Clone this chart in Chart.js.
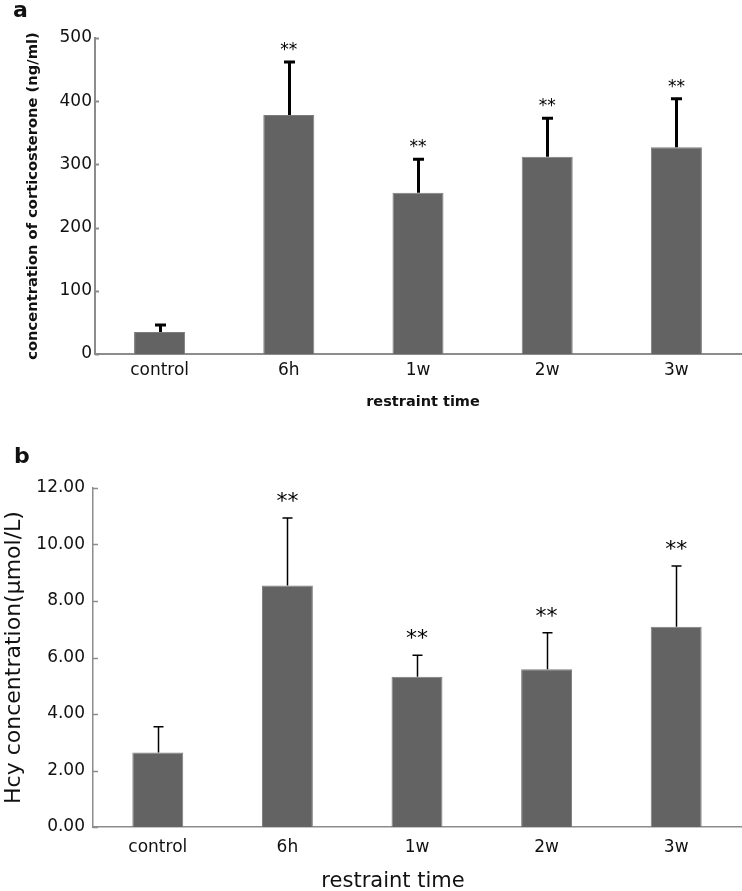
<!DOCTYPE html>
<html lang="en">
<head>
<meta charset="UTF-8" />
<title>Corticosterone and Hcy concentration vs restraint time</title>
<script src="https://cdn.jsdelivr.net/npm/chart.js"></script>
<style>
  body { margin: 0; background: #fff; }
  #wrap { position: relative; width: 742px; height: 891px; }
  #chartA { position: absolute; left: 0; top: 0; }
  #chartB { position: absolute; left: 0; top: 420px; }
</style>
</head>
<body>
<div id="wrap">
  <canvas id="chartA" width="742" height="420"></canvas>
  <canvas id="chartB" width="742" height="471"></canvas>
</div>
<script>
  const categories = ['control', '6h', '1w', '2w', '3w'];

  // panel a – corticosterone (ng/ml)
  const corticoMean = [35, 378, 255, 312, 327];
  const corticoSD = [11, 84, 53, 61, 77];
  const corticoStars = ['', '**', '**', '**', '**'];
  const corticoTicks = [0, 100, 200, 300, 400, 500];

  // panel b – Hcy (µmol/L)
  const hcyMean = [2.64, 8.55, 5.32, 5.58, 7.09];
  const hcySD = [0.91, 2.39, 0.76, 1.30, 2.15];
  const hcyStars = ['', '**', '**', '**', '**'];
  const hcyTicks = [0, 2, 4, 6, 8, 10, 12];

  const FONT = "'DejaVu Sans', sans-serif";
  const AXIS = '#8c8c8c';
  const TEXT = '#111';
  const BAR = '#636363';

  // error bars, asterisks, inner tick marks, panel letter, x title
  const extras = {
    id: 'extras',
    afterDatasetsDraw(chart, args, o) {
      const ctx = chart.ctx;
      const y = chart.scales.y;
      const area = chart.chartArea;
      const meta = chart.getDatasetMeta(0);
      const vals = chart.data.datasets[0].data;
      ctx.save();

      ctx.strokeStyle = AXIS;
      ctx.lineWidth = o.axisWidth;
      y.ticks.forEach(t => {
        const py = Math.round(y.getPixelForValue(t.value)) + 0.5;
        ctx.beginPath();
        ctx.moveTo(area.left, py);
        ctx.lineTo(area.left + o.tickLen, py);
        ctx.stroke();
      });

      ctx.strokeStyle = '#000';
      ctx.fillStyle = '#000';
      ctx.lineWidth = o.errWidth;
      ctx.textAlign = 'center';
      ctx.textBaseline = 'alphabetic';
      ctx.font = o.starFont;
      meta.data.forEach((bar, i) => {
        const top = y.getPixelForValue(vals[i] + o.sd[i]);
        const bx = Math.round(bar.x) + (o.errWidth % 2 ? 0.5 : 0);
        ctx.beginPath();
        ctx.moveTo(bx, bar.y);
        ctx.lineTo(bx, top);
        ctx.moveTo(bx - o.cap / 2, top);
        ctx.lineTo(bx + o.cap / 2, top);
        ctx.stroke();
        if (o.stars[i]) ctx.fillText(o.stars[i], bar.x, top - o.starGap);
      });

      ctx.fillStyle = TEXT;
      ctx.textAlign = 'left';
      ctx.font = o.letterFont;
      ctx.fillText(o.letter, o.letterX, o.letterY);

      ctx.font = o.xTitleFont;
      ctx.textAlign = 'center';
      ctx.textBaseline = 'middle';
      ctx.fillText(o.xTitle, o.xTitleX, o.xTitleY);
      ctx.restore();
    }
  };

  new Chart(document.getElementById('chartA'), {
    type: 'bar',
    data: {
      labels: categories,
      datasets: [{
        data: corticoMean,
        backgroundColor: BAR,
        borderColor: '#7d7d7d',
        borderWidth: 1,
        categoryPercentage: 1,
        barPercentage: 0.395
      }]
    },
    options: {
      responsive: false,
      animation: false,
      devicePixelRatio: 1,
      layout: { padding: { top: 38, right: 1, left: 0, bottom: 0 } },
      plugins: {
        legend: { display: false },
        tooltip: { enabled: false },
        extras: {
          sd: corticoSD, stars: corticoStars,
          errWidth: 3, cap: 11, axisWidth: 2, tickLen: 4,
          starFont: '17px ' + FONT, starGap: 7,
          letter: 'a', letterFont: 'bold 22px ' + FONT, letterX: 13, letterY: 17,
          xTitle: 'restraint time', xTitleFont: 'bold 14.5px ' + FONT, xTitleX: 423, xTitleY: 402
        }
      },
      scales: {
        x: {
          grid: { display: false, drawTicks: false },
          border: { color: AXIS, width: 2 },
          ticks: { color: TEXT, font: { family: FONT, size: 17 }, padding: 6 },
          afterFit: s => { s.height = 66; }
        },
        y: {
          min: 0, max: 500,
          grid: { display: false, drawTicks: false },
          border: { color: AXIS, width: 2 },
          ticks: { color: TEXT, font: { family: FONT, size: 17 }, padding: 3 },
          afterBuildTicks: s => { s.ticks = corticoTicks.map(v => ({ value: v })); },
          title: {
            display: true, text: 'concentration of corticosterone (ng/ml)', color: TEXT,
            font: { family: FONT, size: 14.7, weight: 'bold' },
            padding: { top: 24, bottom: 0 }
          },
          afterFit: s => { s.width = 95; }
        }
      }
    },
    plugins: [extras]
  });

  new Chart(document.getElementById('chartB'), {
    type: 'bar',
    data: {
      labels: categories,
      datasets: [{
        data: hcyMean,
        backgroundColor: BAR,
        borderColor: '#7d7d7d',
        borderWidth: 1,
        categoryPercentage: 1,
        barPercentage: 0.393
      }]
    },
    options: {
      responsive: false,
      animation: false,
      devicePixelRatio: 1,
      layout: { padding: { top: 68, right: 1, left: 0, bottom: 0 } },
      plugins: {
        legend: { display: false },
        tooltip: { enabled: false },
        extras: {
          sd: hcySD, stars: hcyStars,
          errWidth: 1.5, cap: 10, axisWidth: 1.5, tickLen: 5,
          starFont: '22px ' + FONT, starGap: 10,
          letter: 'b', letterFont: 'bold 22px ' + FONT, letterX: 14, letterY: 43,
          xTitle: 'restraint time', xTitleFont: '21px ' + FONT, xTitleX: 393, xTitleY: 462
        }
      },
      scales: {
        x: {
          grid: { display: false, drawTicks: false },
          border: { color: AXIS, width: 1.5 },
          ticks: { color: TEXT, font: { family: FONT, size: 17 }, padding: 10 },
          afterFit: s => { s.height = 64; }
        },
        y: {
          min: 0, max: 12,
          grid: { display: false, drawTicks: false },
          border: { color: AXIS, width: 1.5 },
          ticks: {
            color: TEXT, font: { family: FONT, size: 17 }, padding: 8,
            callback: v => v.toFixed(2)
          },
          afterBuildTicks: s => { s.ticks = hcyTicks.map(v => ({ value: v })); },
          title: {
            display: true, text: 'Hcy concentration(μmol/L)', color: TEXT,
            font: { family: FONT, size: 22 },
            padding: { top: 1, bottom: 0 }
          },
          afterFit: s => { s.width = 93; }
        }
      }
    },
    plugins: [extras]
  });
</script>
</body>
</html>
